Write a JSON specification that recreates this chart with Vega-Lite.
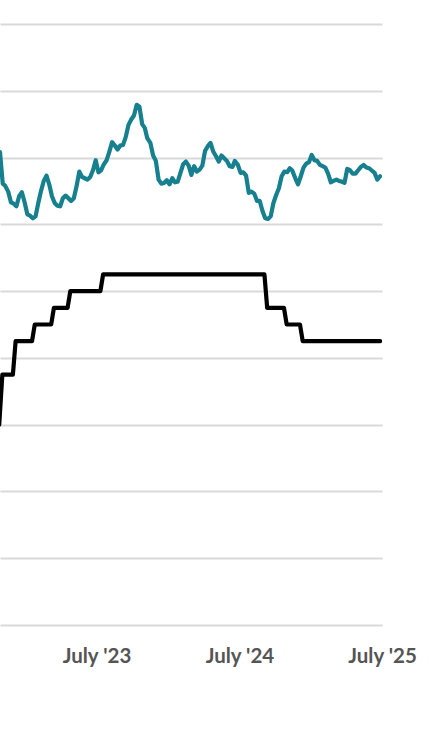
{
  "$schema": "https://vega.github.io/schema/vega-lite/v6.json",
  "width": 382,
  "height": 601,
  "autosize": {"type": "none"},
  "padding": {"left": 0, "top": 24, "right": 52, "bottom": 120},
  "background": "#ffffff",
  "config": {"view": {"stroke": null}},
  "datasets": {
    "mortgage": [
      {"date": "2022-11-10", "rate": 7.08}, {"date": "2022-11-17", "rate": 6.61}, {"date": "2022-11-23", "rate": 6.58}, {"date": "2022-12-01", "rate": 6.49}, {"date": "2022-12-08", "rate": 6.33}, {"date": "2022-12-15", "rate": 6.31}, {"date": "2022-12-22", "rate": 6.27}, {"date": "2022-12-29", "rate": 6.42},
      {"date": "2023-01-05", "rate": 6.48}, {"date": "2023-01-12", "rate": 6.33}, {"date": "2023-01-19", "rate": 6.15}, {"date": "2023-01-26", "rate": 6.13}, {"date": "2023-02-02", "rate": 6.09}, {"date": "2023-02-09", "rate": 6.12}, {"date": "2023-02-16", "rate": 6.32}, {"date": "2023-02-23", "rate": 6.50}, {"date": "2023-03-02", "rate": 6.65}, {"date": "2023-03-09", "rate": 6.73}, {"date": "2023-03-16", "rate": 6.60}, {"date": "2023-03-23", "rate": 6.42}, {"date": "2023-03-30", "rate": 6.32}, {"date": "2023-04-06", "rate": 6.28}, {"date": "2023-04-13", "rate": 6.27}, {"date": "2023-04-20", "rate": 6.39}, {"date": "2023-04-27", "rate": 6.43}, {"date": "2023-05-04", "rate": 6.39}, {"date": "2023-05-11", "rate": 6.35}, {"date": "2023-05-18", "rate": 6.39}, {"date": "2023-05-25", "rate": 6.57}, {"date": "2023-06-01", "rate": 6.79}, {"date": "2023-06-08", "rate": 6.71}, {"date": "2023-06-15", "rate": 6.69}, {"date": "2023-06-22", "rate": 6.67}, {"date": "2023-06-29", "rate": 6.71}, {"date": "2023-07-06", "rate": 6.81}, {"date": "2023-07-13", "rate": 6.96}, {"date": "2023-07-20", "rate": 6.78}, {"date": "2023-07-27", "rate": 6.81}, {"date": "2023-08-03", "rate": 6.90}, {"date": "2023-08-10", "rate": 6.96}, {"date": "2023-08-17", "rate": 7.09}, {"date": "2023-08-24", "rate": 7.23}, {"date": "2023-08-31", "rate": 7.18}, {"date": "2023-09-07", "rate": 7.12}, {"date": "2023-09-14", "rate": 7.18}, {"date": "2023-09-21", "rate": 7.19}, {"date": "2023-09-28", "rate": 7.31}, {"date": "2023-10-05", "rate": 7.49}, {"date": "2023-10-12", "rate": 7.57}, {"date": "2023-10-19", "rate": 7.63}, {"date": "2023-10-26", "rate": 7.79}, {"date": "2023-11-02", "rate": 7.76}, {"date": "2023-11-09", "rate": 7.50}, {"date": "2023-11-16", "rate": 7.44}, {"date": "2023-11-22", "rate": 7.29}, {"date": "2023-11-30", "rate": 7.22}, {"date": "2023-12-07", "rate": 7.03}, {"date": "2023-12-14", "rate": 6.95}, {"date": "2023-12-21", "rate": 6.67}, {"date": "2023-12-28", "rate": 6.61},
      {"date": "2024-01-04", "rate": 6.62}, {"date": "2024-01-11", "rate": 6.66}, {"date": "2024-01-18", "rate": 6.60}, {"date": "2024-01-25", "rate": 6.69}, {"date": "2024-02-01", "rate": 6.63}, {"date": "2024-02-08", "rate": 6.64}, {"date": "2024-02-15", "rate": 6.77}, {"date": "2024-02-22", "rate": 6.90}, {"date": "2024-02-29", "rate": 6.94}, {"date": "2024-03-07", "rate": 6.88}, {"date": "2024-03-14", "rate": 6.74}, {"date": "2024-03-21", "rate": 6.87}, {"date": "2024-03-28", "rate": 6.79}, {"date": "2024-04-04", "rate": 6.82}, {"date": "2024-04-11", "rate": 6.88}, {"date": "2024-04-18", "rate": 7.10}, {"date": "2024-04-25", "rate": 7.17}, {"date": "2024-05-02", "rate": 7.22}, {"date": "2024-05-09", "rate": 7.09}, {"date": "2024-05-16", "rate": 7.02}, {"date": "2024-05-23", "rate": 6.94}, {"date": "2024-05-30", "rate": 7.03}, {"date": "2024-06-06", "rate": 6.99}, {"date": "2024-06-13", "rate": 6.95}, {"date": "2024-06-20", "rate": 6.87}, {"date": "2024-06-27", "rate": 6.86}, {"date": "2024-07-03", "rate": 6.95}, {"date": "2024-07-11", "rate": 6.89}, {"date": "2024-07-18", "rate": 6.77}, {"date": "2024-07-25", "rate": 6.78}, {"date": "2024-08-01", "rate": 6.73}, {"date": "2024-08-08", "rate": 6.47}, {"date": "2024-08-15", "rate": 6.49}, {"date": "2024-08-22", "rate": 6.46}, {"date": "2024-08-29", "rate": 6.35}, {"date": "2024-09-05", "rate": 6.35}, {"date": "2024-09-12", "rate": 6.20}, {"date": "2024-09-19", "rate": 6.09}, {"date": "2024-09-26", "rate": 6.08}, {"date": "2024-10-03", "rate": 6.12}, {"date": "2024-10-10", "rate": 6.32}, {"date": "2024-10-17", "rate": 6.44}, {"date": "2024-10-24", "rate": 6.54}, {"date": "2024-10-31", "rate": 6.72}, {"date": "2024-11-07", "rate": 6.79}, {"date": "2024-11-14", "rate": 6.78}, {"date": "2024-11-21", "rate": 6.84}, {"date": "2024-11-27", "rate": 6.81}, {"date": "2024-12-05", "rate": 6.69}, {"date": "2024-12-12", "rate": 6.60}, {"date": "2024-12-19", "rate": 6.72}, {"date": "2024-12-26", "rate": 6.85},
      {"date": "2025-01-02", "rate": 6.91}, {"date": "2025-01-09", "rate": 6.93}, {"date": "2025-01-16", "rate": 7.04}, {"date": "2025-01-23", "rate": 6.96}, {"date": "2025-01-30", "rate": 6.95}, {"date": "2025-02-06", "rate": 6.89}, {"date": "2025-02-13", "rate": 6.87}, {"date": "2025-02-20", "rate": 6.85}, {"date": "2025-02-27", "rate": 6.76}, {"date": "2025-03-06", "rate": 6.63}, {"date": "2025-03-13", "rate": 6.65}, {"date": "2025-03-20", "rate": 6.67}, {"date": "2025-03-27", "rate": 6.65}, {"date": "2025-04-03", "rate": 6.64}, {"date": "2025-04-10", "rate": 6.62}, {"date": "2025-04-17", "rate": 6.83}, {"date": "2025-04-24", "rate": 6.81}, {"date": "2025-05-01", "rate": 6.76}, {"date": "2025-05-08", "rate": 6.76}, {"date": "2025-05-15", "rate": 6.81}, {"date": "2025-05-22", "rate": 6.86}, {"date": "2025-05-29", "rate": 6.89}, {"date": "2025-06-05", "rate": 6.85}, {"date": "2025-06-12", "rate": 6.84}, {"date": "2025-06-18", "rate": 6.81}, {"date": "2025-06-26", "rate": 6.77}, {"date": "2025-07-03", "rate": 6.67}, {"date": "2025-07-10", "rate": 6.72}
    ],
    "fed": [
      {"date": "2022-11-08", "rate": 3.0}, {"date": "2022-11-16", "rate": 3.75},
      {"date": "2022-12-13", "rate": 3.75}, {"date": "2022-12-20", "rate": 4.25},
      {"date": "2023-01-31", "rate": 4.25}, {"date": "2023-02-07", "rate": 4.5},
      {"date": "2023-03-21", "rate": 4.5}, {"date": "2023-03-28", "rate": 4.75},
      {"date": "2023-05-02", "rate": 4.75}, {"date": "2023-05-09", "rate": 5.0},
      {"date": "2023-07-25", "rate": 5.0}, {"date": "2023-08-01", "rate": 5.25},
      {"date": "2024-09-17", "rate": 5.25}, {"date": "2024-09-24", "rate": 4.75},
      {"date": "2024-11-06", "rate": 4.75}, {"date": "2024-11-13", "rate": 4.5},
      {"date": "2024-12-17", "rate": 4.5}, {"date": "2024-12-24", "rate": 4.25},
      {"date": "2025-07-10", "rate": 4.25}
    ]
  },
  "encoding": {
    "x": {
      "field": "date",
      "type": "temporal",
      "scale": {"domain": [{"year": 2022, "month": 11, "date": 10}, {"year": 2025, "month": 7, "date": 15}]},
      "axis": {
        "title": null,
        "grid": false,
        "domain": false,
        "ticks": false,
        "tickSize": 0,
        "values": [{"year": 2023, "month": 7, "date": 15}, {"year": 2024, "month": 7, "date": 15}, {"year": 2025, "month": 7, "date": 15}],
        "format": "%B '%y",
        "labelFont": "Lato",
        "labelFontWeight": "bold",
        "labelFontSize": 20.5,
        "labelColor": "#555555",
        "labelBaseline": "alphabetic",
        "labelPadding": 37,
        "labelOverlap": false,
        "labelFlush": false
      }
    },
    "y": {
      "field": "rate",
      "type": "quantitative",
      "scale": {"domain": [0, 9], "nice": false, "zero": true},
      "axis": {
        "title": null,
        "values": [0, 1, 2, 3, 4, 5, 6, 7, 8, 9],
        "labels": false,
        "ticks": false,
        "domain": false,
        "grid": true,
        "gridColor": "#d9d9d9",
        "gridWidth": 2
      }
    }
  },
  "layer": [
    {
      "data": {"name": "mortgage"},
      "mark": {"type": "line", "color": "#16808f", "strokeWidth": 4.2, "strokeJoin": "round", "strokeCap": "round", "clip": true}
    },
    {
      "data": {"name": "fed"},
      "mark": {"type": "line", "color": "#000000", "strokeWidth": 4.2, "strokeJoin": "round", "strokeCap": "round", "clip": true}
    }
  ]
}
